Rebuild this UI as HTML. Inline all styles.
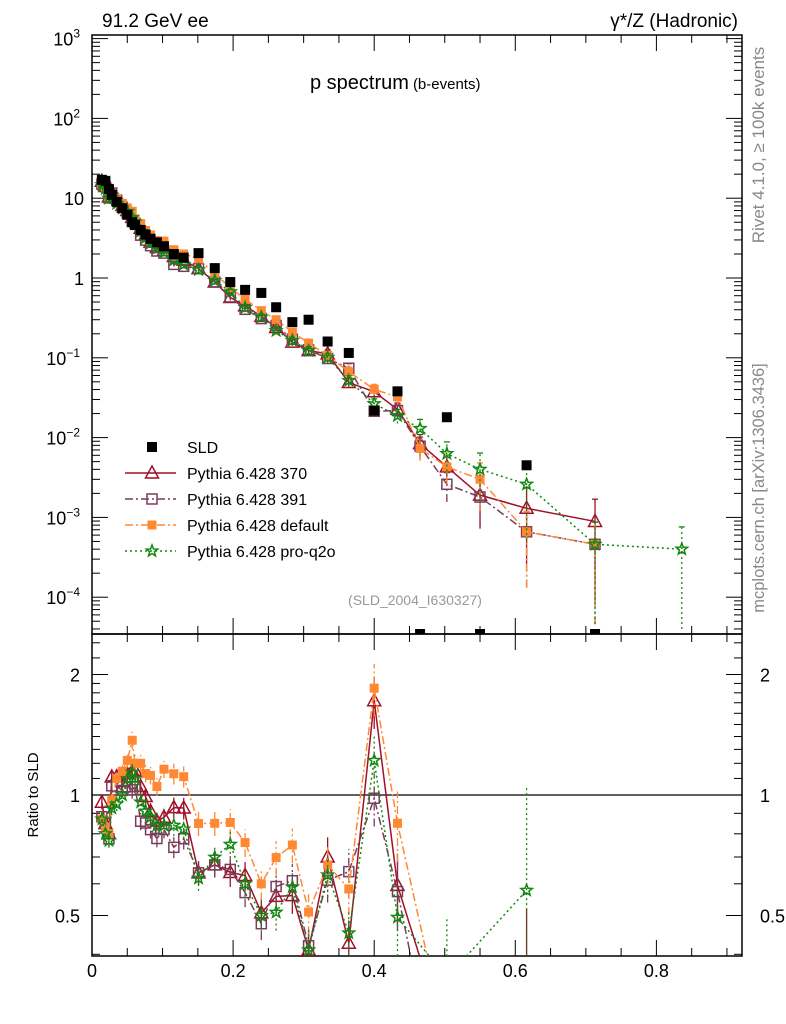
<!DOCTYPE html>
<html><head><meta charset="utf-8">
<style>
html,body{margin:0;padding:0;background:#fff;width:786px;height:1024px;overflow:hidden;}
svg{display:block;font-family:"Liberation Sans",sans-serif;}
</style></head>
<body>
<svg id="c" width="786" height="1024" viewBox="0 0 786 1024"></svg>
<script>
const xs=[0.014,0.019,0.024,0.028,0.035,0.043,0.050,0.057,0.061,0.069,0.076,0.083,0.092,0.102,0.116,0.130,0.151,0.174,0.196,0.217,0.240,0.261,0.284,0.307,0.334,0.364,0.400,0.433,0.465,0.503,0.550,0.616,0.713,0.836];
const sld=[17,16.5,13,11,9,7.5,6.2,5.0,4.6,4.0,3.5,3.1,2.8,2.5,2.0,1.8,2.05,1.33,0.89,0.71,0.65,0.43,0.28,0.30,0.16,0.115,0.0218,0.038,0,0.018,0,0.0045,0,null];
const mc370=[16.3,14.0,10.4,12.2,10.0,8.1,7.0,5.75,5.3,4.2,3.47,2.82,2.41,2.2,1.86,1.67,1.31,0.89,0.57,0.447,0.33,0.24,0.157,0.123,0.112,0.049,0.0375,0.0226,0.0084,0.0043,0.0019,0.0013,0.00089,null];
const mc391=[15.0,14.0,10.1,11.6,9.45,7.7,6.5,5.15,4.83,3.44,2.98,2.54,2.18,2.05,1.48,1.40,1.31,0.89,0.58,0.405,0.31,0.254,0.171,0.126,0.098,0.074,0.0214,0.0218,0.0078,0.0026,0.0018,0.00066,0.00046,null];
const mcdef=[14.8,13.7,10.4,10.7,9.9,8.6,7.56,6.85,5.52,4.8,3.96,3.47,2.94,2.9,2.26,2.0,1.74,1.13,0.76,0.54,0.39,0.30,0.21,0.153,0.107,0.067,0.0403,0.0323,0.0073,0.0043,0.0030,0.00066,0.00046,null];
const mcq2o=[14.8,13.2,10.0,10.2,8.55,7.5,6.8,5.7,5.06,3.84,3.19,2.73,2.35,2.1,1.68,1.48,1.27,0.93,0.67,0.426,0.325,0.219,0.165,0.123,0.101,0.052,0.0266,0.0188,0.013,0.0063,0.0040,0.0026,0.00046,0.0004];
const relErr=[0.04,0.04,0.04,0.04,0.04,0.04,0.04,0.05,0.05,0.05,0.05,0.05,0.05,0.05,0.06,0.06,0.07,0.07,0.08,0.08,0.09,0.1,0.1,0.12,0.12,0.14,0.15,0.2,0.3,0.4,0.6,0.8,0.9,0.9];
const xTicks=[0,0.2,0.4,0.6,0.8];
const xTickLabels=["0","0.2","0.4","0.6","0.8"];
const yDecades=[-4,-3,-2,-1,0,1,2,3];
const yLabels=["10","10","10","10","1","10","10","10"];
const ySup=["−4","−3","−2","−1","","","2","3"];

const NS="http://www.w3.org/2000/svg";
const svg=document.getElementById('c');
function el(tag,attrs,parent){const e=document.createElementNS(NS,tag);for(const k in attrs)e.setAttribute(k,attrs[k]);(parent||svg).appendChild(e);return e;}
const L=92,R=742,T=35,MB=634,RB=956;
const X=v=>L+v*705.5;
const Y=v=>278-Math.log10(v)*79.8;
const RY=r=>795-Math.log2(r)*120.5;

const defs=el('defs',{});
const cp1=el('clipPath',{id:'cm'},defs);el('rect',{x:L,y:T,width:R-L,height:MB-T},cp1);
const cp2=el('clipPath',{id:'cr'},defs);el('rect',{x:L,y:MB,width:R-L,height:RB-MB},cp2);

const f1=el('rect',{x:L,y:T,width:R-L,height:MB-T,fill:'none',stroke:'#000','stroke-width':1.5});

const f2=el('rect',{x:L,y:MB,width:R-L,height:RB-MB,fill:'none',stroke:'#000','stroke-width':1.5});


for(let v=0;v<=0.92;v+=0.05){
  const major=Math.abs(v/0.2-Math.round(v/0.2))<1e-6;
  const len=major?16:8;
  const x=X(v);
  for(const [y0,d] of [[T,1],[MB,-1],[MB,1],[RB,-1]]){
    el('line',{x1:x,x2:x,y1:y0,y2:y0+d*len,stroke:'#000','stroke-width':1});
  }
}
xTicks.forEach((v,i)=>{const t=el('text',{x:X(v),y:977,'font-size':18,'text-anchor':'middle'});t.textContent=xTickLabels[i];
});

yDecades.forEach((d,i)=>{
  const y=Y(Math.pow(10,d));
  el('line',{x1:L,x2:L+16,y1:y,y2:y,stroke:'#000'});el('line',{x1:R,x2:R-16,y1:y,y2:y,stroke:'#000'});
  for(let m=2;m<=9;m++){const yy=Y(m*Math.pow(10,d));if(yy<T)continue;
    el('line',{x1:L,x2:L+8,y1:yy,y2:yy,stroke:'#000'});el('line',{x1:R,x2:R-8,y1:yy,y2:yy,stroke:'#000'});}
  const t=el('text',{x:ySup[i]?80:84,y:y+7,'font-size':18,'text-anchor':'end'});
  
  t.textContent=yLabels[i];
  if(ySup[i]){const s=el('tspan',{dy:-8,'font-size':12},t);s.textContent=ySup[i];}
});
for(let m=9;m>=3;m--){const yy=Y(m*1e-5);if(yy<MB){el('line',{x1:L,x2:L+8,y1:yy,y2:yy,stroke:'#000'});el('line',{x1:R,x2:R-8,y1:yy,y2:yy,stroke:'#000'});}}

[0.5,1,2].forEach(r=>{const y=RY(r);el('line',{x1:L,x2:L+16,y1:y,y2:y,stroke:'#000'});el('line',{x1:R,x2:R-16,y1:y,y2:y,stroke:'#000'});
  for(const x of [80,760]){const t=el('text',{x:x,y:y+7,'font-size':18,'text-anchor':x<100?'end':'start'});t.textContent=String(r);
  }});
[0.4,0.6,0.7,0.8,0.9,1.1,1.2,1.3,1.4,1.5,1.6,1.7,1.8,1.9,2.2,2.4].forEach(r=>{const y=RY(r);if(y<MB||y>RB)return;
  el('line',{x1:L,x2:L+8,y1:y,y2:y,stroke:'#000'});el('line',{x1:R,x2:R-8,y1:y,y2:y,stroke:'#000'});});
const ul=el('line',{x1:L,x2:R,y1:RY(1),y2:RY(1),stroke:'#000','stroke-width':1.2});


function marker(g,type,x,y,col){
  if(type==='sq') el('rect',{x:x-5,y:y-5,width:10,height:10,fill:'#000'},g);
  else if(type==='tri') el('polygon',{points:`${x},${y-7} ${x-6.5},${y+5} ${x+6.5},${y+5}`,fill:'none',stroke:col,'stroke-width':1.5},g);
  else if(type==='osq') el('rect',{x:x-5,y:y-5,width:10,height:10,fill:'none',stroke:col,'stroke-width':1.5},g);
  else if(type==='fsq') el('rect',{x:x-4.5,y:y-4.5,width:9,height:9,fill:col},g);
  else if(type==='star'){let p=[];for(let k=0;k<10;k++){const a=-Math.PI/2+k*Math.PI/5,rr=k%2?2.5:6;p.push((x+rr*Math.cos(a)).toFixed(1)+','+(y+rr*Math.sin(a)).toFixed(1));}
    el('polygon',{points:p.join(' '),fill:'none',stroke:col,'stroke-width':1.5},g);}
}
const series=[
 {name:'pythia-370',vals:mc370,col:'#a0102a',dash:'',m:'tri'},
 {name:'pythia-391',vals:mc391,col:'#7b3b5a',dash:'8,3,2,3',m:'osq'},
 {name:'pythia-default',vals:mcdef,col:'#ff8833',dash:'8,3,2,3',m:'fsq'},
 {name:'pythia-pro-q2o',vals:mcq2o,col:'#118811',dash:'2,3',m:'star'}
];
const gm=el('g',{'clip-path':'url(#cm)'});


const gr=el('g',{'clip-path':'url(#cr)'});


series.forEach(s=>{
  const g=el('g',{},gm);
  
  
  const gg=el('g',{},gr);
  
  
  let pts=[],rpts=[];
  s.vals.forEach((v,i)=>{if(v==null)return;const x=X(xs[i]),y=Y(v);pts.push(x+','+y);
    const lo=Math.max(v*(1-relErr[i]),1e-6),hi=v*(1+relErr[i]);
    el('line',{x1:x,x2:x,y1:Y(lo),y2:Y(hi),stroke:s.col,'stroke-width':1.3,'stroke-dasharray':s.dash},g);
    el('line',{x1:x-3,x2:x+3,y1:Y(hi),y2:Y(hi),stroke:s.col,'stroke-width':1.3},g);
    if(sld[i]){const r=v/sld[i];const ry=RY(r);rpts.push(x+','+ry);
      el('line',{x1:x,x2:x,y1:RY(Math.max(r*(1-relErr[i]),0.05)),y2:RY(r*(1+relErr[i])),stroke:s.col,'stroke-width':1.3,'stroke-dasharray':s.dash},gg);}
  });
  el('polyline',{points:pts.join(' '),fill:'none',stroke:s.col,'stroke-width':1.5,'stroke-dasharray':s.dash},g);
  el('polyline',{points:rpts.join(' '),fill:'none',stroke:s.col,'stroke-width':1.5,'stroke-dasharray':s.dash},gg);
  s.vals.forEach((v,i)=>{if(v==null)return;const x=X(xs[i]);marker(g,s.m,x,Y(v),s.col);
    if(sld[i])marker(gg,s.m,x,RY(v/sld[i]),s.col);});
});
const gd=el('g',{'clip-path':'url(#cm)'});


sld.forEach((v,i)=>{if(v==null)return;const x=X(xs[i]);const y=v>0?Y(v):MB;marker(gd,'sq',x,y,'#000');});

const leg=[['SLD','sq','#000',''],['Pythia 6.428 370','tri','#a0102a',''],['Pythia 6.428 391','osq','#7b3b5a','8,3,2,3'],['Pythia 6.428 default','fsq','#ff8833','8,3,2,3'],['Pythia 6.428 pro-q2o','star','#118811','2,3']];
const lg=el('g',{});


leg.forEach((e,i)=>{const y=447+i*26;const g=el('g',{},lg);
  
  
  if(i>0)el('line',{x1:125,x2:176,y1:y,y2:y,stroke:e[2],'stroke-width':1.5,'stroke-dasharray':e[3]},g);
  marker(g,e[1],152,y,e[2]);const t=el('text',{x:187,y:y+6,'font-size':16},g);t.textContent=e[0];});

function txt(x,y,s,size,attrs,name){const t=el('text',Object.assign({x:x,y:y,'font-size':size},attrs||{}));t.textContent=s;
  
  
  return t;}
txt(102,27,'91.2 GeV ee',19,{},'energy-label');
txt(738,27,'γ*/Z (Hadronic)',19,{'text-anchor':'end'},'process-label');
const tt=txt(310,89,'p spectrum',20,{},'plot-title');const sp=el('tspan',{'font-size':15,dx:4},tt);sp.textContent='(b-events)';
txt(415,605,'(SLD_2004_I630327)',14,{fill:'#999','text-anchor':'middle'},'analysis-id');
txt(0,0,'Rivet 4.1.0, ≥ 100k events',17,{fill:'#888','text-anchor':'middle',transform:'translate(764,145) rotate(-90)'},'rivet-label');
txt(0,0,'mcplots.cern.ch [arXiv:1306.3436]',16.5,{fill:'#888','text-anchor':'middle',transform:'translate(764,488) rotate(-90)'},'mcplots-label');
txt(0,0,'Ratio to SLD',15,{'text-anchor':'middle',transform:'translate(38,795) rotate(-90)'},'ratio-y-title');
</script>
</body></html>
